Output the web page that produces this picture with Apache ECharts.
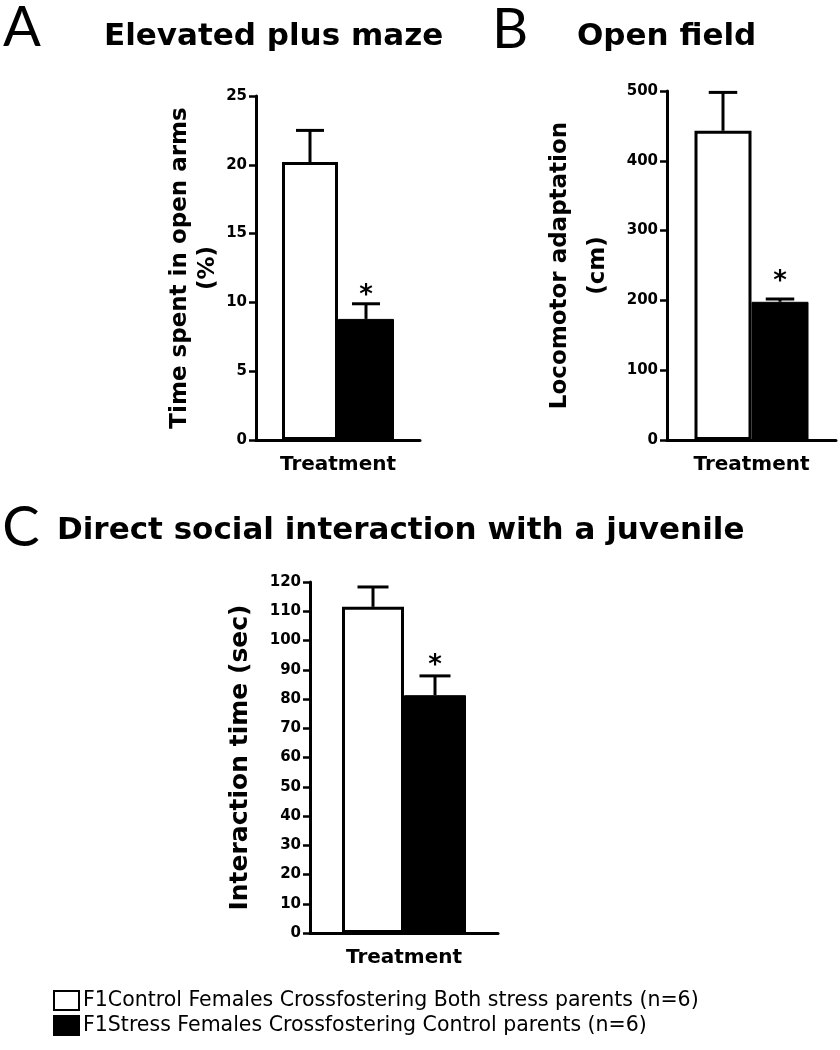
<!DOCTYPE html>
<html>
<head>
<meta charset="utf-8">
<script src="https://cdn.jsdelivr.net/npm/echarts@6/dist/echarts.min.js"></script>
<style>
html,body{margin:0;padding:0;background:#fff;}
#chart{width:840px;height:1050px;}
</style>
</head>
<body>
<div id="chart"></div>
<script>
// ---- data ----
const categories = ['Treatment'];
const groupNames = [
  'F1Control Females Crossfostering Both stress parents (n=6)',
  'F1Stress Females Crossfostering Control parents (n=6)'
];
const mazeMean = [20.2, 8.8];      // % time in open arms
const mazeSem = [2.3, 1.1];
const fieldMean = [443, 198];      // locomotor adaptation (cm)
const fieldSem = [55, 4];
const socialMean = [111.5, 81.3];  // interaction time (sec)
const socialSem = [6.8, 6.6];
const panelTitles = ['Elevated plus maze', 'Open field', 'Direct social interaction with a juvenile'];
const panelLetters = ['A', 'B', 'C'];
const yAxisNames = ['Time spent in open arms\n(%)', 'Locomotor adaptation\n(cm)', 'Interaction time (sec)'];
const yMax = [25, 500, 120];
const yInterval = [5, 100, 10];

// ---- layout / style ----
const BOLD = "'DejaVu Sans', sans-serif";
const layouts = [
  {grid: {left: 256, top: 96, width: 164, height: 344}, bw: 56, nameGap: 32, lineHeight: 28, nameSize: 23, star: 14},
  {grid: {left: 667, top: 91, width: 169, height: 349}, bw: 57, nameGap: 50, lineHeight: 38, nameSize: 23, star: 23},
  {grid: {left: 310, top: 582, width: 188, height: 351}, bw: 62, nameGap: 55, lineHeight: 30, nameSize: 25, star: 16}
];
const means = [mazeMean, fieldMean, socialMean];
const sems = [mazeSem, fieldSem, socialSem];

const grids = [], xAxes = [], yAxes = [], series = [];
layouts.forEach((L, p) => {
  grids.push(Object.assign({outerBoundsMode: 'none', containLabel: false}, L.grid));
  xAxes.push({
    type: 'category', gridIndex: p, data: categories,
    axisLine: {lineStyle: {color: '#000', width: 3}},
    axisTick: {show: false},
    axisLabel: {color: '#000', fontFamily: BOLD, fontWeight: 'bold', fontSize: 20, margin: 15}
  });
  yAxes.push({
    type: 'value', gridIndex: p, min: 0, max: yMax[p], interval: yInterval[p],
    name: yAxisNames[p], nameLocation: 'middle', nameRotate: 90, nameGap: L.nameGap,
    nameTextStyle: {color: '#000', fontFamily: BOLD, fontWeight: 'bold', fontSize: L.nameSize, lineHeight: L.lineHeight, align: 'center'},
    axisLine: {show: true, lineStyle: {color: '#000', width: 3}},
    axisTick: {show: true, length: 7, lineStyle: {color: '#000', width: 2.5}},
    axisLabel: {color: '#000', fontFamily: BOLD, fontWeight: 'bold', fontSize: 15, margin: 9},
    splitLine: {show: false}
  });
  groupNames.forEach((nm, i) => {
    series.push({
      type: 'bar', name: nm, xAxisIndex: p, yAxisIndex: p,
      data: [means[p][i]], barWidth: L.bw, barGap: '0%',
      itemStyle: i === 0 ? {color: '#fff', borderColor: '#000', borderWidth: 3} : {color: '#000', borderColor: '#000', borderWidth: 1},
      z: 2
    });
  });
  const errData = means[p].map((m, i) => [0, m, sems[p][i], i]);
  series.push({
    type: 'custom', name: 'err' + p, xAxisIndex: p, yAxisIndex: p, data: errData, z: 5, clip: false,
    renderItem: (params, api) => {
      const m = api.value(1), s = api.value(2), bi = api.value(3);
      const base = api.coord([0, m]);
      const top = api.coord([0, m + s]);
      const x = base[0] + (bi - 0.5) * L.bw;
      const children = [
        {type: 'line', shape: {x1: x, y1: base[1], x2: x, y2: top[1]}, style: {stroke: '#000', lineWidth: 3}},
        {type: 'line', shape: {x1: x - L.bw / 4, y1: top[1], x2: x + L.bw / 4, y2: top[1]}, style: {stroke: '#000', lineWidth: 3}}
      ];
      if (bi === 1) {
        children.push({type: 'text', x: x, y: top[1] - L.star + 6,
          style: {text: '*', fill: '#000', fontFamily: BOLD, fontWeight: 'bold', fontSize: 26, align: 'center', verticalAlign: 'middle'}});
      }
      return {type: 'group', children};
    }
  });
});

const letterFont = {fontFamily: "Lato, 'Open Sans', sans-serif", fontWeight: 'normal', fontSize: 56, fill: '#000'};
const titleFont = {fontFamily: BOLD, fontWeight: 'bold', fontSize: 31, fill: '#000'};
const graphic = [
  {type: 'text', x: 22, y: 28, style: Object.assign({text: panelLetters[0], align: 'center', verticalAlign: 'middle'}, letterFont)},
  {type: 'text', x: 510, y: 30, style: Object.assign({text: panelLetters[1], align: 'center', verticalAlign: 'middle'}, letterFont)},
  {type: 'text', x: 21, y: 528, style: Object.assign({text: panelLetters[2], align: 'center', verticalAlign: 'middle'}, letterFont)},
  {type: 'text', x: 104, y: 37, style: Object.assign({text: panelTitles[0], align: 'left', verticalAlign: 'middle'}, titleFont)},
  {type: 'text', x: 577, y: 37, style: Object.assign({text: panelTitles[1], align: 'left', verticalAlign: 'middle'}, titleFont)},
  {type: 'text', x: 57, y: 531, style: Object.assign({text: panelTitles[2], align: 'left', verticalAlign: 'middle'}, titleFont)}
];

const chart = echarts.init(document.getElementById('chart'), null, {renderer: 'canvas'});
chart.setOption({
  backgroundColor: '#fff',
  animation: false,
  grid: grids,
  xAxis: xAxes,
  yAxis: yAxes,
  series: series,
  graphic: graphic,
  legend: {
    data: groupNames, orient: 'vertical', left: 53, top: 990, padding: 0,
    itemWidth: 25, itemHeight: 19, itemGap: 4, icon: 'rect', selectedMode: false,
    textStyle: {color: '#000', fontFamily: "'DejaVu Sans', sans-serif", fontSize: 20.5, padding: [0, 0, 0, -1]}
  }
});
</script>
</body>
</html>
